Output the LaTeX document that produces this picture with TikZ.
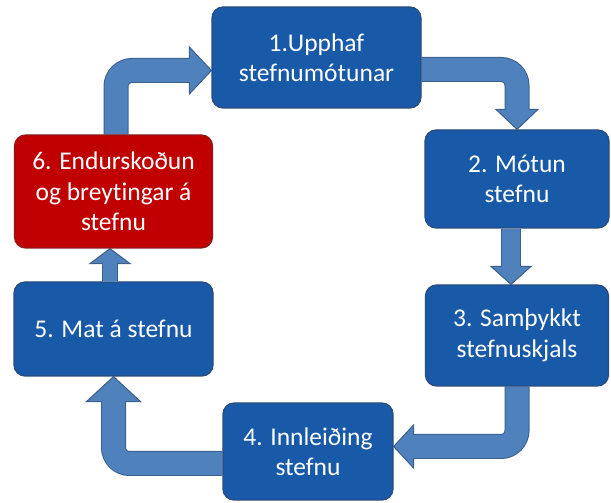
\documentclass[tikz,border=0pt]{standalone}
\usepackage{fontspec}
\setmainfont{Carlito}[Ligatures=NoCommon]
\usepackage{xcolor}
\usepackage{tikz}
\usetikzlibrary{positioning, calc}
\definecolor{boxblue}{HTML}{1859A8}
\definecolor{boxedge}{HTML}{2A4B7C}
\definecolor{boxred}{HTML}{C00000}
\definecolor{rededge}{HTML}{8C1A1A}
\definecolor{arrowblue}{HTML}{4F81BD}
\definecolor{arrowedge}{HTML}{3B5E8C}

\pgfdeclarelayer{background}
\pgfsetlayers{background,main}

\tikzset{
  stepbox/.style={draw=boxedge, line width=1.2pt, fill=boxblue, rounded corners=11pt,
    text=white, align=center, inner sep=0pt, font=\fontsize{25.5}{30.5}\selectfont},
  shaftedge/.style={draw=arrowedge, line width=#1+2pt, rounded corners=16pt},
  shaftcore/.style={draw=arrowblue, line width=#1, rounded corners=16pt},
  arrowhead/.style={fill=arrowblue, draw=arrowedge, line width=1pt, line join=miter},
}

\begin{document}
\begin{tikzpicture}[x=1pt, y=1pt]
    \useasboundingbox (0,0) rectangle (611,503);

    \node[stepbox, minimum width=209pt, minimum height=101pt] (b1) at (316.5,445.5)
      {1.Upphaf\\stefnumótunar};
    \node[stepbox, minimum width=184pt, minimum height=98pt] (b2) at (517,324)
      {2. Mótun\\stefnu};
    \node[stepbox, minimum width=183pt, minimum height=101pt] (b3) at (517,167.5)
      {3. Samþykkt\\stefnuskjals};
    \node[stepbox, minimum width=170pt, minimum height=97pt] (b4) at (308,51.5)
      {4. Innleiðing\\stefnu};
    \node[stepbox, minimum width=199pt, minimum height=94pt] (b5) at (113.5,174)
      {5. Mat á stefnu};
    \node[stepbox, fill=boxred, draw=rededge, minimum width=198pt, minimum height=113pt]
      (b6) at (113.5,311.5) {6. Endurskoðun\\og breytingar á\\stefnu};

    \begin{pgfonlayer}{background}
      % 1 -> 2
      \draw[shaftedge=23pt] ([yshift=-12pt]b1.east) -| ([yshift=20pt]b2.north);
      \filldraw[arrowhead] (b2.north) -- ++(-21,20) -- ++(42,0) -- cycle;
      \draw[shaftcore=23pt] ([yshift=-12pt]b1.east) -| ([yshift=18pt]b2.north);
      % 2 -> 3
      \draw[shaftedge=18pt] ([xshift=-6pt]b2.south) -- ([xshift=-6pt,yshift=18pt]b3.north);
      \filldraw[arrowhead] ([xshift=-6pt]b3.north) -- ++(-20,18) -- ++(40,0) -- cycle;
      \draw[shaftcore=18pt] ([xshift=-6pt]b2.south) -- ([xshift=-6pt,yshift=16pt]b3.north);
      % 3 -> 4
      \draw[shaftedge=23pt] (b3.south) |- ([xshift=20pt,yshift=5pt]b4.east);
      \filldraw[arrowhead] ([yshift=5pt]b4.east) -- ++(20,21.5) -- ++(0,-43) -- cycle;
      \draw[shaftcore=23pt] (b3.south) |- ([xshift=18pt,yshift=5pt]b4.east);
      % 4 -> 5
      \draw[shaftedge=23pt] ([yshift=-12pt]b4.west) -| ([yshift=-25pt]b5.south);
      \filldraw[arrowhead] (b5.south) -- ++(-27,-25) -- ++(54,0) -- cycle;
      \draw[shaftcore=23pt] ([yshift=-12pt]b4.west) -| ([yshift=-23pt]b5.south);
      % 5 -> 6
      \draw[shaftedge=14pt] ([xshift=-3.5pt]b5.north) -- ([xshift=-3.5pt,yshift=-15pt]b6.south);
      \filldraw[arrowhead] ([xshift=-3.5pt]b6.south) -- ++(-20,-15) -- ++(40,0) -- cycle;
      \draw[shaftcore=14pt] ([xshift=-3.5pt]b5.north) -- ([xshift=-3.5pt,yshift=-13pt]b6.south);
      % 6 -> 1
      \draw[shaftedge=23pt] ([xshift=2.5pt]b6.north) |- ([xshift=-22pt,yshift=-13pt]b1.west);
      \filldraw[arrowhead] ([yshift=-13pt]b1.west) -- ++(-22,23.5) -- ++(0,-47) -- cycle;
      \draw[shaftcore=23pt] ([xshift=2.5pt]b6.north) |- ([xshift=-20pt,yshift=-13pt]b1.west);
    \end{pgfonlayer}
\end{tikzpicture}
\end{document}
